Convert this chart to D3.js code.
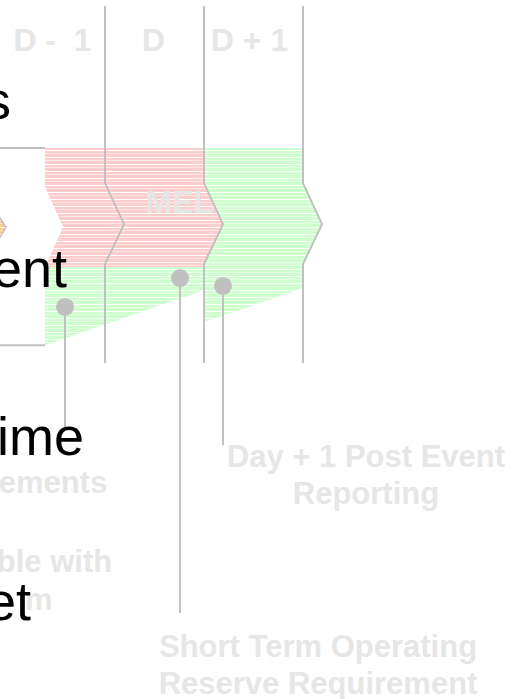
<!DOCTYPE html>
<html>
<head>
<meta charset="utf-8">
<script src="https://cdn.jsdelivr.net/npm/d3@7"></script>
<style>
  body { margin: 0; background: #fff; }
  svg { display: block; font-family: "Liberation Sans", Arial, sans-serif; }
</style>
</head>
<body>
<div id="chart"></div>
<script>
// Days around the event (D = 0); each column spans [day, day + 1]
const days = [-1, 0, 1];
const dayLabels = ['D -  1', 'D', 'D + 1'];

// Shaded phases: start/end day, top level and bottom levels (left, right)
const phaseNames = ['MEL', '', ''];
const phaseStart = [-0.606, -0.606, 1];
const phaseEnd = [1, 1, 2];
const phaseTop = [39.8, 73.1, 39.8];
const phaseBottomLeft = [73.1, 95.0, 88.5];
const phaseBottomRight = [73.1, 79.6, 79.0];

// Milestone markers: day, level of the dot, level where the stem ends
const markerDay = [-0.404, 0.758, 1.192];
const markerLevel = [84.3, 76.2, 78.4];
const markerEnd = [118.8, 170.0, 123.0];

// Callout texts
const callouts = [
    ['Day + 1 Post Event', 'Reporting'],
    ['Short Term Operating', 'Reserve Requirement']
];
const leftNotes = ['ements', 'ble with', 'm'];
const bodyText = ['s', 'ent', 'ime', 'et'];

const width = 531, height = 699;
const gray = '#c0c0c0', faint = '#e6e6e6';

const svg = d3.select('#chart').append('svg')
    .attr('width', width)
    .attr('height', height);

// scales: days horizontally, timeline level (0-100) vertically
const x = d3.scaleLinear([-1, 2], [6, 303]);
const y = d3.scaleLinear([0, 100], [6, 363]);
const tip = 19; // chevron depth in px
const chev = [49.6, 61.1, 72.3];

// stripe patterns
const defs = svg.append('defs');
function stripes(id, color) {
    const p = defs.append('pattern')
        .attr('id', id)
        .attr('patternUnits', 'userSpaceOnUse')
        .attr('width', 8).attr('height', 7);
    p.append('rect').attr('width', 8).attr('height', 7).attr('fill', '#fff');
    p.append('rect').attr('y', 0).attr('width', 8).attr('height', 3).attr('fill', color);
    p.append('rect').attr('y', 4).attr('width', 8).attr('height', 2.5).attr('fill', color);
}
stripes('pink', '#ffcccc');
stripes('green', '#ccffcc');
stripes('orange', '#fbc88e');

// box lines on the left
svg.selectAll('line.box')
    .data([phaseTop[0], phaseBottomLeft[1]])
    .join('line')
    .classed('box', true)
    .attr('x1', 0).attr('x2', x(phaseStart[0]))
    .attr('y1', d => y(d)).attr('y2', d => y(d))
    .attr('stroke', gray).attr('stroke-width', 2);

// partly visible orange step
svg.append('path')
    .attr('d', `M-12,${y(59.4)}L0,${y(59.4)}L6,${y(62.0)}L0,${y(64.8)}L-12,${y(64.8)}Z`)
    .attr('fill', 'url(#orange)')
    .attr('stroke', gray).attr('stroke-width', 1.5);

// phase shapes
function phasePoints(i) {
    const x0 = x(phaseStart[i]), x1 = x(phaseEnd[i]);
    const top = y(phaseTop[i]);
    const pts = [[x0, top], [x1, top]];
    if (i !== 1) {
        pts.push([x1, y(chev[0])], [x1 + tip, y(chev[1])], [x1, y(chev[2])]);
    }
    pts.push([x1, y(phaseBottomRight[i])], [x0, y(phaseBottomLeft[i])]);
    if (i === 0) {
        pts.push([x0, y(73.1)], [x0 + 18, y(61.9)], [x0, y(50.7)]);
    } else if (i === 2) {
        pts.push([x0, y(chev[2])], [x0 + tip, y(chev[1])], [x0, y(chev[0])]);
    }
    return pts;
}
const fills = ['url(#pink)', 'url(#green)', 'url(#green)'];
svg.selectAll('path.phase')
    .data(d3.range(phaseStart.length))
    .join('path')
    .classed('phase', true)
    .attr('d', i => d3.line()(phasePoints(i)) + 'Z')
    .attr('fill', i => fills[i]);

// day boundaries with chevrons
const boundary = d => d3.line()([
    [x(d), y(0)], [x(d), y(chev[0])], [x(d) + tip, y(chev[1])],
    [x(d), y(chev[2])], [x(d), y(100)]
]);
svg.selectAll('path.day')
    .data(days.map(d => d + 1))
    .join('path')
    .classed('day', true)
    .attr('d', boundary)
    .attr('fill', 'none')
    .attr('stroke', gray).attr('stroke-width', 2);

// day labels
svg.selectAll('text.day')
    .data(days)
    .join('text')
    .classed('day', true)
    .attr('x', (d, i) => x(d + 0.5) - [3, 1, 4][i])
    .attr('y', 51)
    .attr('text-anchor', 'middle')
    .attr('font-size', 32).attr('font-weight', 'bold')
    .attr('fill', faint)
    .style('white-space', 'pre')
    .text((d, i) => dayLabels[i]);

// phase name
svg.append('text')
    .attr('x', x((0 + 0.7) / 2 + 0.4))
    .attr('y', 213)
    .attr('text-anchor', 'middle')
    .attr('font-size', 32).attr('font-weight', 'bold')
    .attr('fill', faint)
    .text(phaseNames[0]);

// body text of the slide (cut off at the left)
const bodyEnd = [11, 67, 84, 31];
const bodyBase = [119, 287, 455, 620];

// faint notes behind the body text
const noteEnd = [0.022, 0.072, -0.53];
const noteBase = [493, 572, 610];
svg.selectAll('text.note')
    .data(leftNotes)
    .join('text')
    .classed('note', true)
    .attr('x', (d, i) => x(noteEnd[i]))
    .attr('y', (d, i) => noteBase[i])
    .attr('text-anchor', 'end')
    .attr('font-size', 31).attr('font-weight', 'bold')
    .attr('fill', faint)
    .text(d => d);

// markers
svg.selectAll('line.stem')
    .data(markerDay)
    .join('line')
    .classed('stem', true)
    .attr('x1', d => x(d)).attr('x2', d => x(d))
    .attr('y1', (d, i) => y(markerLevel[i])).attr('y2', (d, i) => y(markerEnd[i]))
    .attr('stroke', gray).attr('stroke-width', 2);
svg.selectAll('circle.marker')
    .data(markerDay)
    .join('circle')
    .classed('marker', true)
    .attr('cx', d => x(d))
    .attr('cy', (d, i) => y(markerLevel[i]))
    .attr('r', 9)
    .attr('fill', gray);

svg.selectAll('text.body')
    .data(bodyText)
    .join('text')
    .classed('body', true)
    .attr('x', (d, i) => bodyEnd[i])
    .attr('y', (d, i) => bodyBase[i])
    .attr('text-anchor', 'end')
    .attr('font-size', 54)
    .attr('fill', '#000')
    .text(d => d);

// callouts
const calloutX = [2.636, 2.152];
const calloutBase = [467, 657];
callouts.forEach((lines, i) => {
    svg.append('text')
        .attr('text-anchor', 'middle')
        .attr('font-size', 31).attr('font-weight', 'bold')
        .attr('fill', faint)
        .selectAll('tspan')
        .data(lines)
        .join('tspan')
        .attr('x', x(calloutX[i]))
        .attr('y', (d, j) => calloutBase[i] + j * 37)
        .text(d => d);
});
</script>
</body>
</html>
